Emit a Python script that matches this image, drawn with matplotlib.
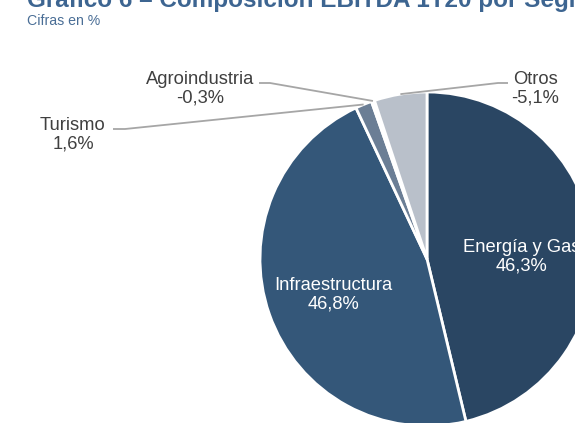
import matplotlib.pyplot as plt
import numpy as np

plt.rcParams["font.family"] = ["Liberation Sans", "DejaVu Sans"]

W, H = 575, 423

# data
segments = ["Energía y Gas", "Infraestructura", "Turismo", "Agroindustria", "Otros"]
shares = [46.3, 46.8, 1.6, -0.3, -5.1]
colors = ["#2a4663", "#345779", "#6b7e95", "#ffffff", "#b9c0ca"]

title = "Gráfico 6 – Composición EBITDA 1T20 por Segmento"
subtitle = "Cifras en %"

# layout, in pixels from top-left
cx, cy, r = 427, 259, 167
inside_pos = {"Energía y Gas": (522, 257), "Infraestructura": (333, 295)}
outside_pos = {
    "Turismo": ((73, 135), (113, 129), (125, 129)),
    "Agroindustria": ((200, 89), (259, 83), (270, 83)),
    "Otros": ((535, 89), (508, 83), (498, 83)),
}


def fy(py):
    return H - py


def pct(v):
    return f"{v:.1f}%".replace(".", ",")


fig = plt.figure(figsize=(W / 100, H / 100), dpi=100)
ax = fig.add_axes([0, 0, 1, 1])

sizes = np.abs(shares)
wedges, _ = ax.pie(
    sizes,
    colors=colors,
    startangle=90,
    counterclock=False,
    center=(cx, fy(cy)),
    radius=r,
    wedgeprops=dict(edgecolor="white", linewidth=2),
)
ax.set_xlim(0, W)
ax.set_ylim(0, H)
ax.axis("off")

for w, name, v in zip(wedges, segments, shares):
    if name in inside_pos:
        tx, ty = inside_pos[name]
        ax.text(tx, fy(ty), f"{name}\n{pct(v)}", ha="center", va="center",
                color="white", fontsize=13.2, linespacing=1.12)
    else:
        (tx, ty), (sx, sy), (ex, ey) = outside_pos[name]
        mid = np.deg2rad((w.theta1 + w.theta2) / 2)
        px = cx + r * np.cos(mid)
        py = fy(cy) + r * np.sin(mid)
        ax.plot([sx, ex, px], [fy(sy), fy(ey), py], color="#a6a6a6", lw=1.3,
                solid_capstyle="butt")
        ax.text(tx, fy(ty), f"{name}\n{pct(v)}", ha="center", va="center",
                color="#404040", fontsize=13.2, linespacing=1.12)

fig.text(27 / W, fy(7) / H, title, ha="left", va="baseline",
         fontsize=17.5, fontweight="bold", color="#3d6591")
fig.text(27 / W, fy(25) / H, subtitle, ha="left", va="baseline",
         fontsize=10.2, color="#4a6e96")

fig.savefig("out.png", dpi=100)
